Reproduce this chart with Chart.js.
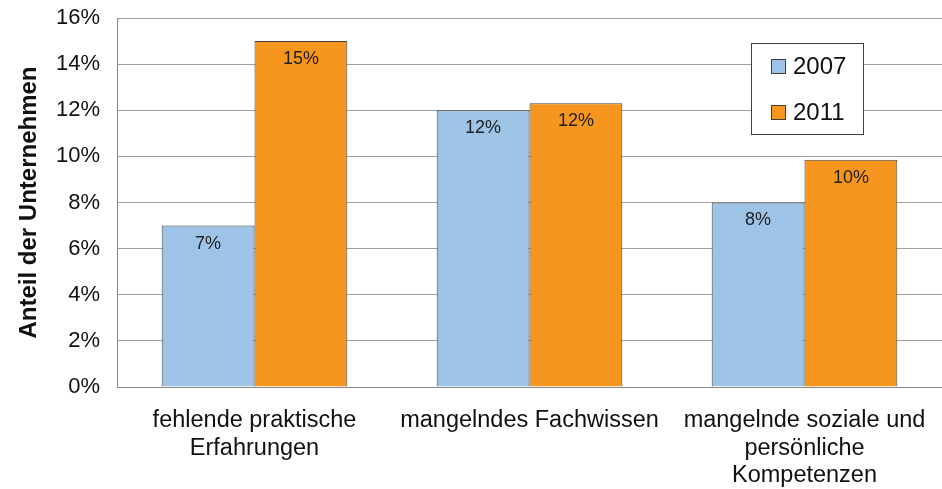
<!DOCTYPE html>
<html><head><meta charset="utf-8">
<script src="https://cdn.jsdelivr.net/npm/chart.js@4/dist/chart.umd.min.js"></script>
<style>html,body{margin:0;padding:0;background:#fff}#wrap{width:942px;height:489px}</style>
</head><body><div id="wrap"><canvas id="c"></canvas></div>
<script>
const categories = [["fehlende praktische","Erfahrungen"],"mangelndes Fachwissen",["mangelnde soziale und","persönliche","Kompetenzen"]];
const seriesNames = ["2007","2011"];
const values2007 = [7.0, 12.0, 8.0];
const values2011 = [15.0, 12.3, 9.85];
const labels2007 = ["7%","12%","8%"];
const labels2011 = ["15%","12%","10%"];
const yTicks = [0,2,4,6,8,10,12,14,16];

const valueLabels = {
  id:'valueLabels',
  afterDatasetsDraw(chart){
    const ctx = chart.ctx;
    const lbls = [labels2007, labels2011];
    ctx.save();
    ctx.font = '18px "Liberation Sans", Arial, sans-serif';
    ctx.fillStyle = '#222';
    ctx.textAlign = 'center';
    ctx.textBaseline = 'middle';
    chart.data.datasets.forEach((ds,i)=>{
      chart.getDatasetMeta(i).data.forEach((bar,j)=>{
        ctx.fillText(lbls[i][j], bar.x, bar.y + 18);
      });
    });
    ctx.restore();
  }
};
const boxLegend = {
  id:'boxLegend',
  afterDraw(chart){
    const ctx = chart.ctx, a = chart.chartArea;
    const x0 = a.left + 634, y0 = a.top + 25, w = 112, h = 91;
    ctx.save();
    ctx.fillStyle = '#fff';
    ctx.fillRect(x0, y0, w, h);
    ctx.strokeStyle = '#404040'; ctx.lineWidth = 1;
    ctx.strokeRect(x0+0.5, y0+0.5, w, h);
    ctx.font = '24px "Liberation Sans", Arial, sans-serif';
    ctx.textBaseline = 'middle'; ctx.textAlign = 'left';
    chart.data.datasets.forEach((ds,i)=>{
      const cy = y0 + 23 + i*46;
      ctx.fillStyle = ds.backgroundColor;
      ctx.fillRect(x0+20, cy-7, 15, 15);
      ctx.strokeStyle = '#404040';
      ctx.strokeRect(x0+20.5, cy-6.5, 14, 14);
      ctx.fillStyle = '#111';
      ctx.fillText(ds.label, x0+42, cy+1);
    });
    ctx.restore();
  }
};

new Chart(document.getElementById('c'), {
  type:'bar',
  data:{
    labels: categories,
    datasets:[
      {label:seriesNames[0], data:values2007, backgroundColor:'#9DC3E6', borderColor:'#404040', borderWidth:1},
      {label:seriesNames[1], data:values2011, backgroundColor:'#F7961E', borderColor:'#404040', borderWidth:1}
    ]
  },
  options:{
    responsive:true, maintainAspectRatio:false, animation:false,
    layout:{padding:{top:18,right:-4,left:0,bottom:0}},
    plugins:{legend:{display:false}, tooltip:{enabled:false}},
    datasets:{bar:{categoryPercentage:0.675, barPercentage:1}},
    scales:{
      x:{
        grid:{display:false, drawTicks:false},
        border:{display:true, color:'#888', width:1},
        ticks:{color:'#111', padding:20, maxRotation:0, autoSkip:false,
          font:{family:'"Liberation Sans", Arial, sans-serif', size:23.5, lineHeight:1.17}},
        afterFit(s){ s.height = 102; s.paddingLeft = 0; s.paddingRight = 0; }
      },
      y:{
        min:0, max:16,
        afterBuildTicks(s){ s.ticks = yTicks.map(v=>({value:v})); },
        grid:{color:'#a0a0a0', drawTicks:false},
        border:{display:true, color:'#888', width:1},
        ticks:{color:'#111', padding:17, callback:v=>v+'%',
          font:{family:'"Liberation Sans", Arial, sans-serif', size:22}},
        title:{display:true, text:'Anteil der Unternehmen', color:'#111',
          font:{family:'"Liberation Sans", Arial, sans-serif', size:24, weight:'bold'},
          padding:{top:15,bottom:0}},
        afterFit(s){ s.width = 117; s.paddingTop = 0; s.paddingBottom = 0; }
      }
    }
  },
  plugins:[valueLabels, boxLegend]
});
</script></body></html>
